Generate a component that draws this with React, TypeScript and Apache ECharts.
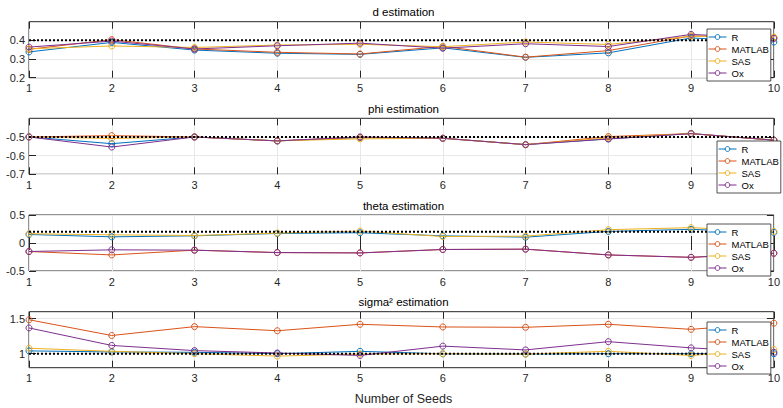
import React, { useEffect, useRef } from "react";
import * as echarts from "echarts";

const seeds = [1, 2, 3, 4, 5, 6, 7, 8, 9, 10];
const seriesNames = ["R", "MATLAB", "SAS", "Ox"];
const seriesColors = ["#0072BD", "#D95319", "#EDB120", "#7E2F8E"];

// d estimation
const dR = [0.338, 0.389, 0.348, 0.331, 0.325, 0.36, 0.309, 0.333, 0.413, 0.391];
const dMATLAB = [0.352, 0.404, 0.354, 0.336, 0.327, 0.368, 0.31, 0.345, 0.424, 0.413];
const dSAS = [0.355, 0.37, 0.362, 0.375, 0.379, 0.366, 0.391, 0.378, 0.422, 0.418];
const dOx = [0.364, 0.396, 0.354, 0.371, 0.385, 0.358, 0.382, 0.367, 0.432, 0.41];

// phi estimation
const phiR = [-0.5, -0.536, -0.5, -0.521, -0.503, -0.507, -0.541, -0.51, -0.482, -0.517];
const phiMATLAB = [-0.5, -0.493, -0.5, -0.521, -0.502, -0.507, -0.541, -0.498, -0.482, -0.517];
const phiSAS = [-0.5, -0.508, -0.5, -0.521, -0.51, -0.507, -0.541, -0.505, -0.482, -0.517];
const phiOx = [-0.5, -0.554, -0.5, -0.521, -0.5, -0.507, -0.541, -0.511, -0.482, -0.517];

// theta estimation
const thetaR = [0.152, 0.11, 0.128, 0.17, 0.183, 0.128, 0.104, 0.207, 0.244, 0.189];
const thetaMATLAB = [-0.152, -0.213, -0.128, -0.171, -0.177, -0.116, -0.11, -0.213, -0.256, -0.183];
const thetaSAS = [0.165, 0.146, 0.134, 0.177, 0.213, 0.116, 0.122, 0.238, 0.274, 0.207];
const thetaOx = [-0.152, -0.122, -0.128, -0.171, -0.177, -0.116, -0.11, -0.213, -0.256, -0.183];

// sigma^2 estimation
const sigR = [1.04, 1.025, 1.02, 1.0, 1.034, 0.998, 0.995, 1.0, 1.0, 1.0];
const sigMATLAB = [1.485, 1.26, 1.387, 1.328, 1.42, 1.382, 1.377, 1.42, 1.348, 1.436];
const sigSAS = [1.078, 1.034, 1.0, 0.966, 0.995, 1.0, 0.995, 1.034, 0.975, 1.059];
const sigOx = [1.368, 1.118, 1.044, 1.01, 0.975, 1.108, 1.054, 1.172, 1.083, 1.02];

const panelTitles = ["d estimation", "phi estimation", "theta estimation", "sigma\u00B2 estimation"];
const trueValues = [0.4, -0.5, 0.2, 1];
const yMins = [0.2, -0.7, -0.5, 0.8];
const yMaxs = [0.5, -0.4, 0.5, 1.6];
const yIntervals = [0.1, 0.1, 0.5, 0.1];
const yTicks = [
  [0.2, 0.3, 0.4],
  [-0.7, -0.6, -0.5],
  [-0.5, 0, 0.5],
  [1, 1.5],
];
const xAxisTitle = "Number of Seeds";

const panelData = [
  [dR, dMATLAB, dSAS, dOx],
  [phiR, phiMATLAB, phiSAS, phiOx],
  [thetaR, thetaMATLAB, thetaSAS, thetaOx],
  [sigR, sigMATLAB, sigSAS, sigOx],
];

const FONT = '"Liberation Sans", Arial, Helvetica, sans-serif';
const AX = "#262626";
const GRIDC = "#e8e8e8";
const gridTops = [21.7, 118.3, 215, 311.7];
const gridHeight = 56;
const plotLeft = 29;
const plotRight = 778;
const legendPos = [
  [707, 29],
  [717, 141],
  [707, 224],
  [707, 322],
];

export default function App() {
  const ref = useRef<HTMLDivElement>(null);
  useEffect(() => {
    document.body.style.margin = "0";
    if (!ref.current) return;
    const chart = echarts.init(ref.current, null, { renderer: "svg" });

    const grid = gridTops.map((t) => ({
      left: plotLeft,
      right: 783 - plotRight,
      top: t,
      height: gridHeight,
      show: true,
      backgroundColor: "#fff",
      borderColor: AX,
      borderWidth: 1,
    }));

    const xAxis: any[] = [];
    gridTops.forEach((_, i) => {
      xAxis.push({
        type: "value",
        gridIndex: i,
        position: "bottom",
        min: seeds[0],
        max: seeds[seeds.length - 1],
        interval: 1,
        axisLine: { show: false },
        axisTick: { show: true, inside: true, length: 7, lineStyle: { color: AX, width: 1 } },
        axisLabel: { fontSize: 11, color: AX, margin: 5, fontFamily: FONT },
        splitLine: { show: true, lineStyle: { color: GRIDC, width: 1 } },
      });
    });
    gridTops.forEach((_, i) => {
      xAxis.push({
        type: "value",
        gridIndex: i,
        position: "top",
        min: seeds[0],
        max: seeds[seeds.length - 1],
        interval: 1,
        axisLine: { show: false },
        axisTick: { show: true, inside: true, length: 7, lineStyle: { color: AX, width: 1 } },
        axisLabel: { show: false },
        splitLine: { show: false },
      });
    });

    const yAxis: any[] = [];
    const makeY = (i: number, pos: string) => {
      const ticks = yTicks[i];
      return {
        type: "value",
        gridIndex: i,
        position: pos,
        min: yMins[i],
        max: yMaxs[i],
        interval: yIntervals[i],
        axisLine: { show: false },
        axisTick: {
          show: true,
          inside: true,
          length: 7,
          customValues: ticks,
          lineStyle: { color: AX, width: 1 },
        },
        axisLabel: {
          show: pos === "left",
          customValues: ticks,
          fontSize: 11,
          color: AX,
          margin: 4,
          fontFamily: FONT,
          formatter: (v: number) => {
            const t = ticks.find((tt) => Math.abs(tt - v) < 1e-9);
            return t === undefined ? "" : String(t);
          },
        },
        splitLine: { show: pos === "left", lineStyle: { color: GRIDC, width: 1 } },
      };
    };
    gridTops.forEach((_, i) => yAxis.push(makeY(i, "left")));
    gridTops.forEach((_, i) => yAxis.push(makeY(i, "right")));

    const series: any[] = [];
    panelData.forEach((group, i) => {
      group.forEach((vals, j) => {
        series.push({
          type: "line",
          name: seriesNames[j],
          xAxisIndex: i,
          yAxisIndex: i,
          data: seeds.map((s, k) => [s, vals[k]]),
          symbol: "circle",
          symbolSize: 6,
          showSymbol: true,
          lineStyle: { color: seriesColors[j], width: 1 },
          itemStyle: { color: "rgba(255,255,255,0)", borderColor: seriesColors[j], borderWidth: 1 },
          emphasis: { disabled: true },
          z: 2,
        });
      });
      series.push({
        type: "line",
        name: "true value",
        xAxisIndex: i,
        yAxisIndex: i,
        data: [
          [seeds[0], trueValues[i]],
          [seeds[seeds.length - 1], trueValues[i]],
        ],
        symbol: "none",
        silent: true,
        lineStyle: { color: "#000", width: 2, type: "dotted" },
        emphasis: { disabled: true },
        z: 3,
      });
    });

    const legendData = seriesNames.map((n, j) => ({
      name: n,
      itemStyle: { color: "#ffffff", borderColor: seriesColors[j], borderWidth: 1 },
      lineStyle: { color: seriesColors[j], width: 1 },
    }));

    const legend = legendPos.map(([l, t]) => ({
      data: legendData,
      orient: "vertical",
      left: l,
      top: t,
      itemWidth: 18,
      itemHeight: 6,
      itemGap: 0,
      padding: [2, 2, 2, 1],
      backgroundColor: "#fff",
      borderColor: AX,
      borderWidth: 0.8,
      selectedMode: false,
      textStyle: { fontSize: 9.5, lineHeight: 12, color: "#000", fontFamily: FONT },
    }));

    const cx = (plotLeft + plotRight) / 2;
    const graphic: any[] = panelTitles.map((title, i) => ({
      type: "text",
      x: cx,
      y: gridTops[i] - 9.5,
      z: 10,
      style: {
        text: title,
        align: "center",
        verticalAlign: "middle",
        fontSize: 11.5,
        fontFamily: FONT,
        fill: "#000",
      },
    }));
    graphic.push({
      type: "text",
      x: cx,
      y: 398.5,
      z: 10,
      style: {
        text: xAxisTitle,
        align: "center",
        verticalAlign: "middle",
        fontSize: 12.5,
        fontFamily: FONT,
        fill: AX,
      },
    });

    chart.setOption({
      animation: false,
      backgroundColor: "#fff",
      grid,
      xAxis,
      yAxis,
      series,
      legend,
      graphic,
    });
    return () => chart.dispose();
  }, []);
  return <div ref={ref} style={{ width: 783, height: 408 }} />;
}
